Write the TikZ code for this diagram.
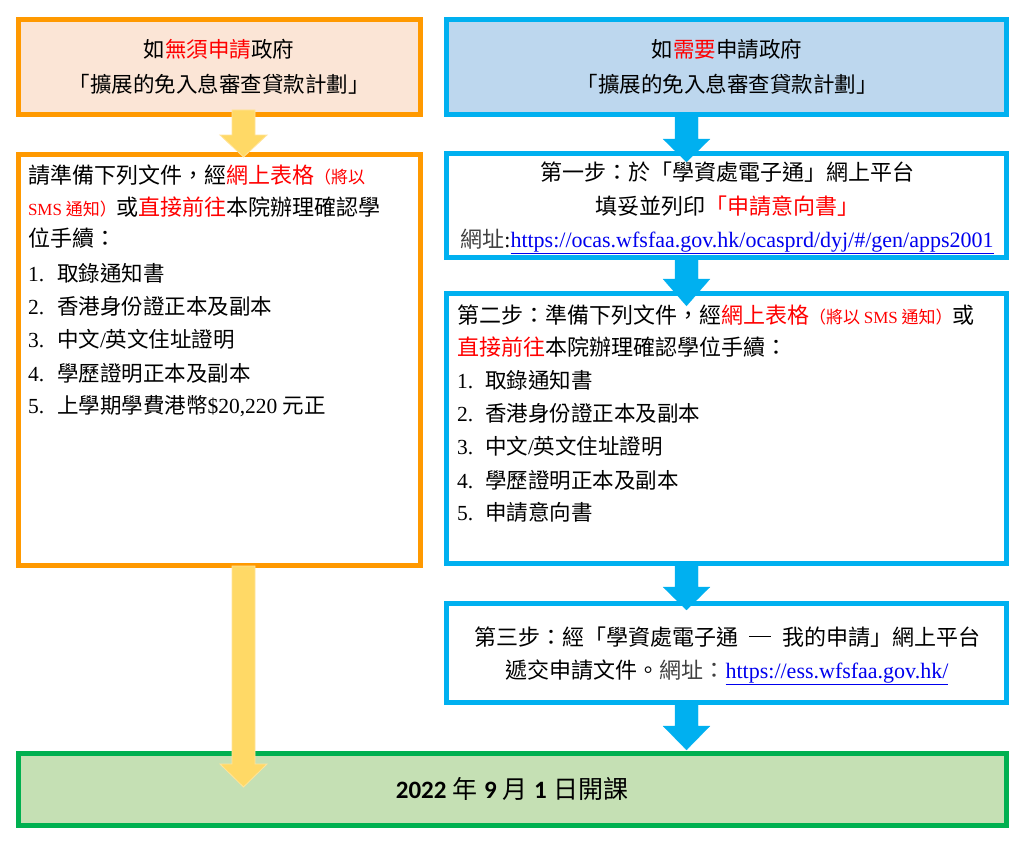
\documentclass[tikz,border=0pt]{standalone}
\usepackage{fontspec}
\setmainfont{Liberation Serif}
\newfontfamily\cjk{Noto Sans CJK TC}
\newfontfamily\calfont{Carlito}
\usetikzlibrary{calc}
\definecolor{orng}{HTML}{FF9900}
\definecolor{peach}{HTML}{FBE5D6}
\definecolor{bluefill}{HTML}{BDD7EE}
\definecolor{cyanb}{HTML}{00B0F0}
\definecolor{grnb}{HTML}{00B050}
\definecolor{grnfill}{HTML}{C5E0B4}
\definecolor{yel}{HTML}{FFD966}
\definecolor{yeledge}{HTML}{FFE49A}
\definecolor{linkblue}{HTML}{0000EE}
\definecolor{redtxt}{HTML}{FF0000}
\newcommand{\rd}[1]{\textcolor{redtxt}{#1}}
\newcommand{\smallred}[1]{{\fontsize{17}{20}\selectfont\color{redtxt}#1}}
\newcommand{\longdash}{\hspace{0.5em}\rule[0.36em]{1em}{1.3pt}\hspace{0.5em}}
\newcommand{\blockarr}[4]{%
  \filldraw[#3] let \p1=(#1), \p2=(#2) in
   (\x1-11.5pt,\y1) -- (\x1+11.5pt,\y1) -- (\x1+11.5pt,\y2+#4) -- (\x1+23.5pt,\y2+#4)
   -- (\x2,\y2) -- (\x1-23.5pt,\y2+#4) -- (\x1-11.5pt,\y2+#4) -- cycle;}
\begin{document}
\begin{tikzpicture}[x=1pt,y=-1pt,
  box/.style={line width=5pt, inner sep=0pt, outer sep=0pt, anchor=north west},
  obox/.style={box, draw=orng},
  bbox/.style={box, draw=cyanb},
  tx/.style={inner sep=0pt, outer sep=0pt, font=\cjk\fontsize{22}{26}\selectfont},
  txc/.style={tx, anchor=base},
  txl/.style={tx, anchor=base west},
  ttl/.style={txc, font=\cjk\fontsize{21.5}{26}\selectfont},
  li/.style={inner sep=0pt, outer sep=0pt, anchor=base west, font=\cjk\fontsize{21.5}{26}\selectfont},
  num/.style={inner sep=0pt, outer sep=0pt, anchor=base west, font=\rmfamily\fontsize{21.5}{26}\selectfont},
  yarr/.style={fill=yel, draw=yeledge, line width=0.8pt},
  barr/.style={fill=cyanb, draw=cyanb, line width=0.1pt},
]
\useasboundingbox (0,0) rectangle (1024,848);
\fill[white] (0,0) rectangle (1024,848);

% boxes
\node[obox, fill=peach, minimum width=402pt, minimum height=94.5pt] (tlb) at (18,20) {};
\node[bbox, fill=bluefill, minimum width=559.5pt, minimum height=94.5pt] (trb) at (446.5,20) {};
\node[obox, fill=white, minimum width=402pt, minimum height=411pt] (lbb) at (18,154) {};
\node[bbox, fill=white, minimum width=559.5pt, minimum height=104pt] (s1) at (446.5,153.5) {};
\node[bbox, fill=white, minimum width=559.5pt, minimum height=269.5pt] (s2) at (446.5,293.5) {};
\node[bbox, fill=white, minimum width=559.5pt, minimum height=99.5pt] (s3) at (446.5,603) {};
\node[box, draw=grnb, fill=grnfill, minimum width=988pt, minimum height=72.5pt] (fin) at (18,753) {};

% arrow end points
\coordinate (y1s) at (243.5,110);  \coordinate (y1e) at (243.5,157);
\coordinate (y2s) at (243.5,566);  \coordinate (y2e) at (243.5,787);
\coordinate (b1s) at (686.5,114);  \coordinate (b1e) at (686.5,162);
\coordinate (b2s) at (686.5,257);  \coordinate (b2e) at (686.5,306);
\coordinate (b3s) at (686.5,563);  \coordinate (b3e) at (686.5,610);
\coordinate (b4s) at (686.5,702);  \coordinate (b4e) at (686.5,750);

\blockarr{y1s}{y1e}{yarr}{22pt}
\blockarr{y2s}{y2e}{yarr}{23pt}
\blockarr{b1s}{b1e}{barr}{23pt}
\blockarr{b2s}{b2e}{barr}{27pt}
\blockarr{b3s}{b3e}{barr}{23pt}
\blockarr{b4s}{b4e}{barr}{24pt}

% titles
\node[ttl] (tl1) at (219,58) {如\rd{無須申請}政府};
\node[ttl] (tl2) at (219,93) {「擴展的免入息審查貸款計劃」};
\node[ttl] (tr1) at (727,58) {如\rd{需要}申請政府};
\node[ttl] (tr2) at (727,93) {「擴展的免入息審查貸款計劃」};

% left box
\node[txl] (lh1) at (28,183) {請準備下列文件，經\rd{網上表格}\smallred{（將以}};
\node[txl] (lh2) at (28,215) {\smallred{{\rmfamily SMS} 通知）}或\rd{直接前往}本院辦理確認學};
\node[txl] (lh3) at (28,246) {位手續：};
\node[num] (ln1) at (28,281) {1.}; \node[li] (lt1) at (57,281) {取錄通知書};
\node[num] (ln2) at (28,314) {2.}; \node[li] (lt2) at (57,314) {香港身份證正本及副本};
\node[num] (ln3) at (28,347) {3.}; \node[li] (lt3) at (57,347) {中文{\rmfamily/}英文住址證明};
\node[num] (ln4) at (28,381) {4.}; \node[li] (lt4) at (57,381) {學歷證明正本及副本};
\node[num] (ln5) at (28,413) {5.}; \node[li] (lt5) at (57,413) {上學期學費港幣{\rmfamily\$20,220 }元正};

% step 1
\node[txc] (s1a) at (727,180) {第一步：於「學資處電子通」網上平台};
\node[txc] (s1b) at (727,214) {填妥並列印\rd{「申請意向書」}};
\node[txc] (s1c) at (727,247) {\textcolor{black!75}{網址}{\rmfamily:\textcolor{linkblue}{\underline{https://ocas.wfsfaa.gov.hk/ocasprd/dyj/\#/gen/apps2001}}}};

% step 2
\node[txl] (s2a) at (457,323) {第二步：準備下列文件，經\rd{網上表格}\smallred{（將以 {\rmfamily SMS} 通知）}或};
\node[txl] (s2b) at (457,355) {\rd{直接前往}本院辦理確認學位手續：};
\node[num] (rn1) at (457,388) {1.}; \node[li] (rt1) at (485,388) {取錄通知書};
\node[num] (rn2) at (457,421) {2.}; \node[li] (rt2) at (485,421) {香港身份證正本及副本};
\node[num] (rn3) at (457,454) {3.}; \node[li] (rt3) at (485,454) {中文{\rmfamily/}英文住址證明};
\node[num] (rn4) at (457,488) {4.}; \node[li] (rt4) at (485,488) {學歷證明正本及副本};
\node[num] (rn5) at (457,520) {5.}; \node[li] (rt5) at (485,520) {申請意向書};

% step 3
\node[txc] (s3a) at (727,645) {第三步：經「學資處電子通\longdash 我的申請」網上平台};
\node[txc] (s3b) at (727,678) {遞交申請文件。\textcolor{black!75}{網址：}{\rmfamily\textcolor{linkblue}{\underline{https://ess.wfsfaa.gov.hk/}}}};

% final
\node[txc, font=\fontsize{25}{30}\selectfont] (fint) at (512,798) {{\calfont\bfseries 2022} {\cjk 年} {\calfont\bfseries 9} {\cjk 月} {\calfont\bfseries 1} {\cjk 日開課}};
\end{tikzpicture}
\end{document}
